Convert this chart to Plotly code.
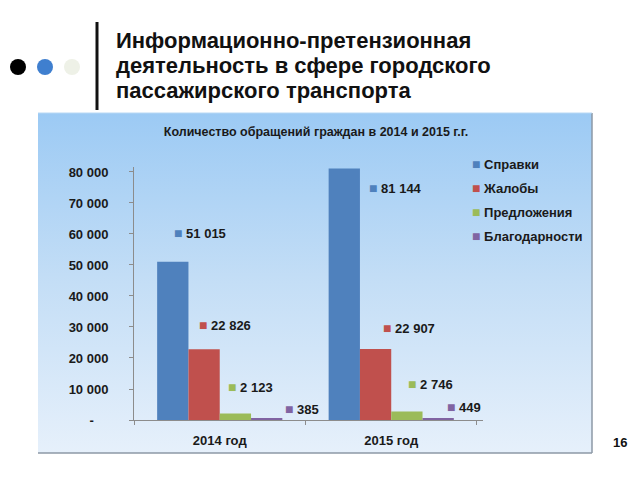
import base64
import plotly.graph_objects as go

# ---------------- data ----------------
categories = ["2014 год", "2015 год"]
series_names = ["Справки", "Жалобы", "Предложения", "Благодарности"]
spravki = [51015, 81144]
zhaloby = [22826, 22907]
predlozheniya = [2123, 2746]
blagodarnosti = [385, 449]
y_tick_values = [0, 10000, 20000, 30000, 40000, 50000, 60000, 70000, 80000]
y_tick_labels = ["-\u00a0\u00a0\u00a0\u00a0", "10 000", "20 000", "30 000", "40 000",
                 "50 000", "60 000", "70 000", "80 000"]
chart_title = "Количество обращений граждан в 2014 и 2015 г.г."
slide_title_lines = ["Информационно-претензионная",
                     "деятельность в сфере городского",
                     "пассажирского транспорта"]
page_number = "16"

series_values = [spravki, zhaloby, predlozheniya, blagodarnosti]

# ---------------- style ----------------
colors = ["#4f81bd", "#c0504d", "#9bbb59", "#8064a2"]
FONT = "Liberation Sans, Arial, sans-serif"
W_FIG, H_FIG = 640, 480
L, R, T, B = 134, 483, 167, 420        # plot area in pixels
PW, PH = R - L, B - T
BARGAP = 0.27

# label offsets (px): dx from bar centre to label left edge, dy above bar top
label_dx = [[0, 24], [-7, 6], [-9.5, -1], [15, 6]]
label_dy = [[29, -20], [24, 21], [26, 27], [10, 12]]


def px(x):
    return (x - L) / PW


def py(y):
    return (B - y) / PH


def fmt(v):
    return f"{v:,}".replace(",", " ")


def key(col):
    return f"<span style='color:{col};font-size:14px'>■</span>"


fig = go.Figure()
for name, vals, col in zip(series_names, series_values, colors):
    fig.add_trace(go.Bar(name=name, x=categories, y=vals, marker_color=col,
                         marker_line_width=0, showlegend=False))

# data labels
cat_w = PW / len(categories)
bar_w = cat_w * (1 - BARGAP) / len(series_names)
annotations = []
for i, (vals, col) in enumerate(zip(series_values, colors)):
    centre = (i - (len(series_names) - 1) / 2) * bar_w
    for j, (cat, v) in enumerate(zip(categories, vals)):
        annotations.append(dict(
            x=cat, y=v, xref="x", yref="y", showarrow=False,
            xanchor="left", yanchor="middle",
            xshift=centre + label_dx[i][j], yshift=label_dy[i][j],
            text=f"{key(col)} {fmt(v)}",
            font=dict(family=FONT, size=13, color="#1a1a1a", weight="bold")))

# legend built as text entries
legend_y = [164, 188, 212, 235.5]
for name, col, ly in zip(series_names, colors, legend_y):
    annotations.append(dict(
        x=px(470), y=py(ly), xref="paper", yref="paper", showarrow=False,
        xanchor="left", yanchor="middle",
        text=f"{key(col)} {name}",
        font=dict(family=FONT, size=13, color="#1a1a1a", weight="bold")))

# slide title
for line, ly in zip(slide_title_lines, [40, 65, 91]):
    annotations.append(dict(
        x=px(114), y=py(ly), xref="paper", yref="paper", showarrow=False,
        xanchor="left", yanchor="middle", text=line,
        font=dict(family=FONT, size=22, color="#111111", weight="bold")))

annotations.append(dict(
    x=px(620), y=py(442), xref="paper", yref="paper", showarrow=False,
    xanchor="center", yanchor="middle", text=page_number,
    font=dict(family=FONT, size=13, color="#111111", weight="bold")))

# background gradient for chart box
bx0, by0, bx1, by1 = 38, 113, 592, 453
svg = (f'<svg xmlns="http://www.w3.org/2000/svg" width="{bx1-bx0}" height="{by1-by0}" '
       f'viewBox="0 0 {bx1-bx0} {by1-by0}" preserveAspectRatio="none">'
       '<defs><linearGradient id="g" x1="0" y1="0" x2="0" y2="1">'
       '<stop offset="0" stop-color="#9ccaf4"/>'
       '<stop offset="0.5" stop-color="#c4def6"/>'
       '<stop offset="1" stop-color="#e6f0fb"/>'
       '</linearGradient></defs>'
       '<rect width="100%" height="100%" fill="url(#g)"/></svg>')
src = "data:image/svg+xml;base64," + base64.b64encode(svg.encode()).decode()

shapes = [
    dict(type="line", xref="paper", yref="paper", x0=px(bx0), x1=px(bx1),
         y0=py(by1), y1=py(by1), line=dict(color="#8d99a6", width=1.5)),
    dict(type="line", xref="paper", yref="paper", x0=px(bx1), x1=px(bx1),
         y0=py(by0), y1=py(by1), line=dict(color="#8d99a6", width=1.5)),
    dict(type="line", xref="paper", yref="paper", x0=px(bx0), x1=px(bx1),
         y0=py(by0), y1=py(by0), line=dict(color="#b8d8f4", width=1)),
    # slide decorations
    dict(type="line", xref="paper", yref="paper", x0=px(97), x1=px(97),
         y0=py(22), y1=py(110), line=dict(color="#111111", width=3)),
]
for cx, col in [(18, "#000000"), (45, "#3f7fcf"), (72, "#eef1e7")]:
    shapes.append(dict(type="circle", xref="paper", yref="paper",
                       x0=px(cx - 8), x1=px(cx + 8), y0=py(67 - 8), y1=py(67 + 8),
                       fillcolor=col, line=dict(width=0)))

fig.update_layout(
    width=W_FIG, height=H_FIG,
    margin=dict(l=L, r=W_FIG - R, t=T, b=H_FIG - B, pad=0),
    paper_bgcolor="white", plot_bgcolor="rgba(0,0,0,0)",
    barmode="group", bargap=BARGAP, bargroupgap=0,
    showlegend=False,
    title=dict(text=chart_title, x=316 / W_FIG, y=1 - 132 / H_FIG,
               xref="container", yref="container", xanchor="center", yanchor="middle",
               font=dict(family=FONT, size=12.5, color="#1a1a1a", weight="bold")),
    xaxis=dict(showline=True, linecolor="#8c8c8c", linewidth=1,
               ticks="outside", ticklen=4, tickcolor="#8c8c8c", tickson="boundaries",
               tickfont=dict(family=FONT, size=13, color="#1a1a1a", weight="bold"),
               ticklabelstandoff=8, showgrid=False, zeroline=False),
    yaxis=dict(range=[0, 81600], showline=True, linecolor="#8c8c8c", linewidth=1,
               ticks="outside", ticklen=4, tickcolor="#8c8c8c",
               tickvals=y_tick_values, ticktext=y_tick_labels,
               tickfont=dict(family=FONT, size=13, color="#1a1a1a", weight="bold"),
               ticklabelstandoff=18, showgrid=False, zeroline=False),
    annotations=annotations,
    shapes=shapes,
    images=[dict(source=src, xref="paper", yref="paper", x=px(bx0), y=py(by0),
                 sizex=(bx1 - bx0) / PW, sizey=(by1 - by0) / PH,
                 xanchor="left", yanchor="top", sizing="stretch", layer="below")],
)

fig.write_html("out.html")
